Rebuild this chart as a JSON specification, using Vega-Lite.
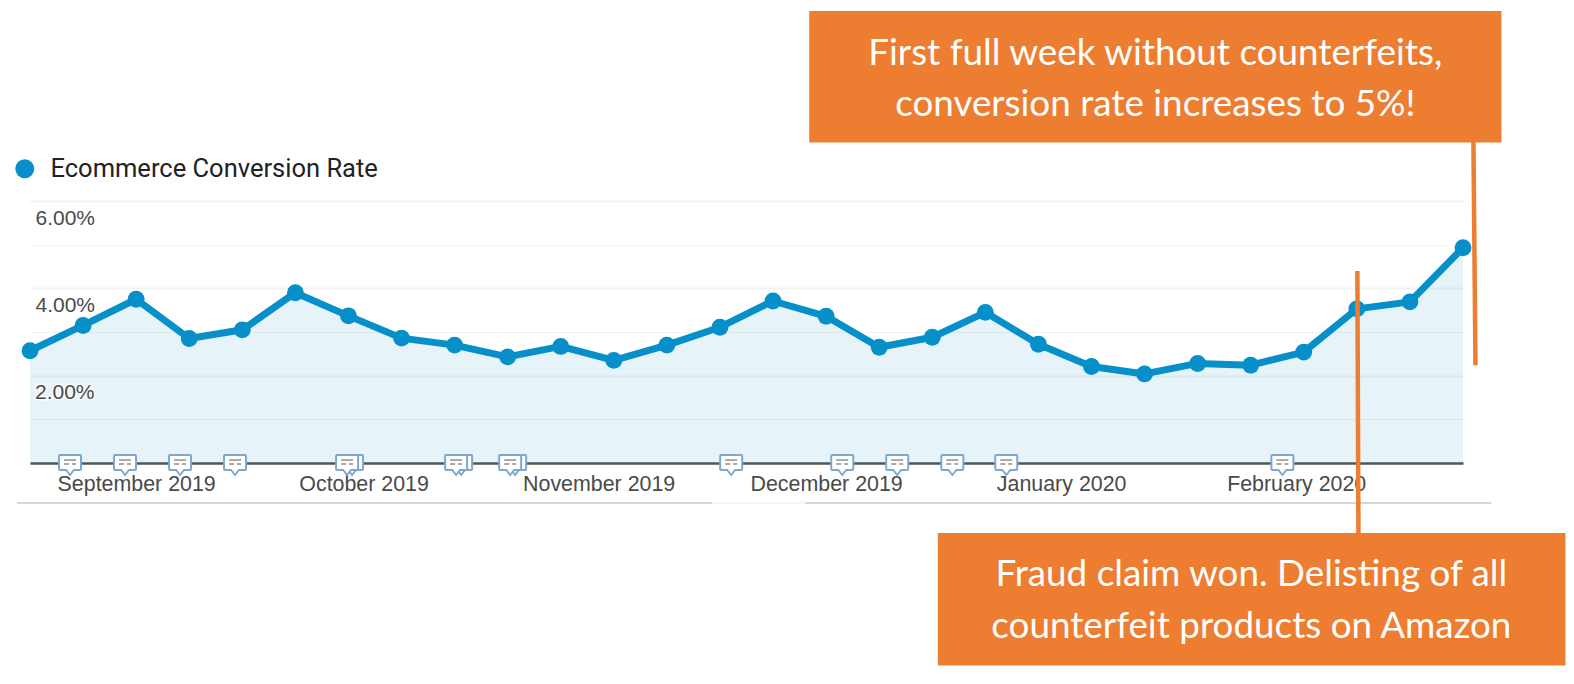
{
"$schema":"https://vega.github.io/schema/vega-lite/v6.json",
"width":1433,"height":262,
"autosize":{"type":"none"},
"padding":{"left":30,"top":201,"right":111,"bottom":221},
"background":"#ffffff",
"view":{"stroke":null},
"datasets":{
"rate":[
{"date":"2019-08-18T00:00:00","v":2.57},{"date":"2019-08-25T00:00:00","v":3.15},{"date":"2019-09-01T00:00:00","v":3.75},{"date":"2019-09-08T00:00:00","v":2.85},
{"date":"2019-09-15T00:00:00","v":3.05},{"date":"2019-09-22T00:00:00","v":3.90},{"date":"2019-09-29T00:00:00","v":3.37},{"date":"2019-10-06T00:00:00","v":2.86},
{"date":"2019-10-13T00:00:00","v":2.70},{"date":"2019-10-20T00:00:00","v":2.43},{"date":"2019-10-27T00:00:00","v":2.67},{"date":"2019-11-03T00:00:00","v":2.35},
{"date":"2019-11-10T00:00:00","v":2.70},{"date":"2019-11-17T00:00:00","v":3.11},{"date":"2019-11-24T00:00:00","v":3.71},{"date":"2019-12-01T00:00:00","v":3.36},
{"date":"2019-12-08T00:00:00","v":2.65},{"date":"2019-12-15T00:00:00","v":2.88},{"date":"2019-12-22T00:00:00","v":3.45},{"date":"2019-12-29T00:00:00","v":2.72},
{"date":"2020-01-05T00:00:00","v":2.21},{"date":"2020-01-12T00:00:00","v":2.04},{"date":"2020-01-19T00:00:00","v":2.28},{"date":"2020-01-26T00:00:00","v":2.24},
{"date":"2020-02-02T00:00:00","v":2.54},{"date":"2020-02-09T00:00:00","v":3.53},{"date":"2020-02-16T00:00:00","v":3.69},{"date":"2020-02-23T00:00:00","v":4.93}],
"iconsback":[
{"date":"2019-09-29T11:30:00","v":0},{"date":"2019-10-13T20:40:00","v":0},{"date":"2019-10-20T23:40:00","v":0}],
"icons":[
{"date":"2019-08-23T06:40:00","v":0},{"date":"2019-08-30T12:45:00","v":0},{"date":"2019-09-06T19:00:00","v":0},{"date":"2019-09-14T01:00:00","v":0},
{"date":"2019-09-28T19:40:00","v":0},{"date":"2019-10-13T04:50:00","v":0},{"date":"2019-10-20T07:50:00","v":0},{"date":"2019-11-18T11:30:00","v":0},
{"date":"2019-12-03T03:00:00","v":0},{"date":"2019-12-10T09:00:00","v":0},{"date":"2019-12-17T15:30:00","v":0},{"date":"2019-12-24T18:15:00","v":0},
{"date":"2020-01-30T04:20:00","v":0}],
"boxes":[
{"date":"2019-11-28T18:30:00","date2":"2020-02-28T01:40:00","v":10.35,"v2":7.34},
{"date":"2019-12-15T17:45:00","date2":"2020-03-07T12:15:00","v":-1.603,"v2":-4.637}],
"leaders":[
{"date":"2020-02-24T09:00:00","date2":"2020-02-24T15:30:00","v":7.35,"v2":2.24},
{"date":"2020-02-09T01:40:00","date2":"2020-02-09T05:00:00","v":4.397,"v2":-1.603}],
"notes":[
{"date":"2020-01-13T10:00:00","v":9.362,"label":"First full week without counterfeits,"},
{"date":"2020-01-13T10:00:00","v":8.195,"label":"conversion rate increases to 5%!"},
{"date":"2020-01-26T02:00:00","v":-2.568,"label":"Fraud claim won. Delisting of all"},
{"date":"2020-01-26T02:00:00","v":-3.745,"label":"counterfeit products on Amazon"}],
"base":[
{"date":"2019-08-16T07:00:00","date2":"2019-11-16T00:00:00","v":-0.916},
{"date":"2019-11-28T06:00:00","date2":"2020-02-26T18:00:00","v":-0.916}],
"baselight":[{"date":"2019-11-16T00:00:00","date2":"2019-11-28T06:00:00","v":-0.916}],
"ylabel":[{"date":"2019-08-18T00:00:00","v":2,"label":"2.00%"}]
},
"encoding":{
"x":{"field":"date","type":"temporal","title":null,
"scale":{"domain":[{"year":2019,"month":8,"date":18},{"year":2020,"month":2,"date":23}],"nice":false},
"axis":{"values":[{"year":2019,"month":9,"date":1},{"year":2019,"month":10,"date":1},{"year":2019,"month":11,"date":1},{"year":2019,"month":12,"date":1},{"year":2020,"month":1,"date":1},{"year":2020,"month":2,"date":1}],
"format":"%B %Y","grid":false,"ticks":false,"domainColor":"#555555","domainWidth":2.5,"labelFont":"Liberation Sans","labelFontSize":21.4,"labelColor":"#4a4a4a","labelPadding":10,"labelOverlap":false,"labelBound":false,"labelFlush":false,"zindex":0}},
"y":{"field":"v","type":"quantitative","title":null,
"scale":{"domain":[0,6],"nice":false,"zero":false},
"axis":{"values":[0,1,2,3,4,5,6],"labelExpr":"datum.value%2==0 && datum.value>0 ? format(datum.value,'.2f')+'%' : ''","grid":true,"gridColor":"#000000","gridOpacity":0.05,"gridWidth":{"expr":"datum.value%2==0?2:1"},"domain":false,"ticks":false,"labelFont":"Liberation Sans","labelFontSize":21,"labelColor":"#4a4a4a","labelAlign":"left","labelPadding":-5,"labelOffset":17,"labelOverlap":false,"labelBound":false,"labelFlush":false,"zindex":0}}
},
"layer":[
{"data":{"name":"rate"},"mark":{"type":"area","color":"#068FC9","opacity":0.1,"clip":false}},
{"data":{"name":"ylabel"},"mark":{"type":"text","align":"left","baseline":"middle","dx":5,"dy":17,"font":"Liberation Sans","fontSize":21,"fill":"#ffffff","stroke":"#ffffff","strokeWidth":3,"strokeOpacity":0.8},"encoding":{"text":{"field":"label"}}},
{"data":{"name":"ylabel"},"mark":{"type":"text","align":"left","baseline":"middle","dx":5,"dy":17,"font":"Liberation Sans","fontSize":21,"fill":"#4a4a4a"},"encoding":{"text":{"field":"label"}}},
{"data":{"name":"base"},"mark":{"type":"rule","color":"#c8c8c8","strokeWidth":1.5},"encoding":{"x2":{"field":"date2"}}},
{"data":{"name":"baselight"},"mark":{"type":"rule","color":"#f2f2f2","strokeWidth":1.5},"encoding":{"x2":{"field":"date2"}}},
{"data":{"name":"rate"},"mark":{"type":"line","color":"#068FC9","strokeWidth":7,"strokeJoin":"round"}},
{"data":{"name":"rate"},"mark":{"type":"point","filled":true,"opacity":1,"size":285,"shape":"circle"},
"encoding":{"color":{"datum":"Ecommerce Conversion Rate","scale":{"range":["#068FC9"]},
"legend":{"orient":"none","legendX":-18,"legendY":-45,"title":null,"symbolType":"circle","symbolSize":361,"symbolStrokeWidth":0,"labelFont":"Roboto","labelFontSize":25.5,"labelColor":"#222222","labelLimit":500,"labelOffset":13}}}},
{"data":{"name":"iconsback"},"mark":{"type":"point","filled":true,"opacity":1,"fill":"#ffffff","stroke":"#7ea9cf","strokeWidth":2,"size":4,"shape":"M-10,-8 H10 Q11,-8 11,-7 V6 Q11,7 10,7 H4 L0,12 L-4,7 H-10 Q-11,7 -11,6 V-7 Q-11,-8 -10,-8 Z"}},
{"data":{"name":"icons"},"mark":{"type":"point","filled":true,"opacity":1,"fill":"#ffffff","stroke":"#7ea9cf","strokeWidth":2,"size":4,"shape":"M-10,-8 H10 Q11,-8 11,-7 V6 Q11,7 10,7 H4 L0,12 L-4,7 H-10 Q-11,7 -11,6 V-7 Q-11,-8 -10,-8 Z"}},
{"data":{"name":"icons"},"mark":{"type":"point","filled":false,"opacity":1,"stroke":"#8f8f8f","strokeWidth":1.5,"size":4,"shape":"M-6,-3 H6 M-6,1 H-1 M2,1 H6"}},
{"data":{"name":"boxes"},"mark":{"type":"rect","color":"#ED7D31"},"encoding":{"x2":{"field":"date2"},"y2":{"field":"v2"}}},
{"data":{"name":"leaders"},"mark":{"type":"rule","color":"#ED7D31","strokeWidth":4.5},"encoding":{"x2":{"field":"date2"},"y2":{"field":"v2"}}},
{"data":{"name":"notes"},"mark":{"type":"text","font":"Lato","fontSize":36.8,"fill":"#ffffff","align":"center","baseline":"middle"},"encoding":{"text":{"field":"label"}}}
]
}
